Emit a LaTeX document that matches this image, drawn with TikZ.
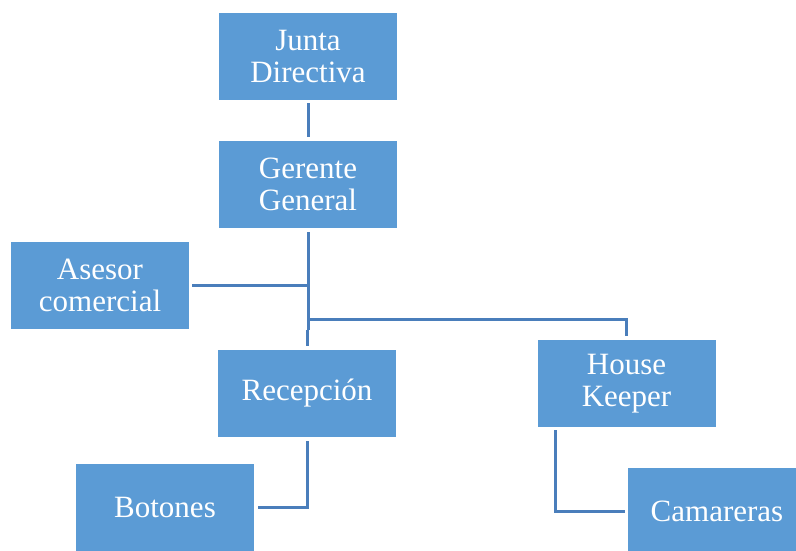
\documentclass[tikz,border=0pt]{standalone}
\usepackage{fontspec}
\setmainfont{Liberation Serif}
\usetikzlibrary{positioning,calc}
\definecolor{boxblue}{RGB}{91,155,213}
\definecolor{lineblue}{RGB}{74,126,187}

\begin{document}
\begin{tikzpicture}[x=1pt,y=-1pt,
		unit/.style={fill=boxblue, text=white, align=center,
			minimum width=178pt, minimum height=87pt, inner sep=0pt,
			font=\rmfamily\fontsize{31}{32}\selectfont},
		link/.style={draw=lineblue, line width=3pt}]
	
	% frame
	\useasboundingbox (0,0) rectangle (796,550);
	\clip (0,0) rectangle (796,550);
	
	% boxes
	\node[unit] (junta) at (308,56.5) {Junta\\Directiva};
	\node[unit] (gerente) at (308,184.5) {Gerente\\General};
	\node[unit] (asesor) at (100,285.5) {Asesor\\comercial};
	\node[unit] (recepcion) at (307,393.5) {Recepción};
	\node[unit] (house) at (626.5,383.5) {House\\Keeper};
	\node[unit] (botones) at (165,507) {Botones};
	\node[unit] (camareras) at (717,511.5) {Camareras};
	
	% links
	\coordinate (trunk) at (308,330);
	\coordinate (split) at (308,319);
	\draw[link, shorten <=3pt, shorten >=4pt] (junta) -- (gerente);
	\draw[link, shorten <=4pt] (gerente.south) -- (trunk);
	\draw[link, shorten <=3pt] (asesor.east) -- (asesor.east -| trunk);
	\draw[link, shorten >=4pt] (split) -| (house.north);
	\draw[link, shorten <=4pt] (recepcion.north) -- (recepcion.north |- trunk);
	\draw[link, shorten <=4pt, shorten >=4pt] (recepcion.south) |- (botones.east);
	\draw[link, shorten <=3pt, shorten >=3pt] ($(house.south west)+(18,0)$) |- (camareras.west);
	
\end{tikzpicture}
\end{document}
